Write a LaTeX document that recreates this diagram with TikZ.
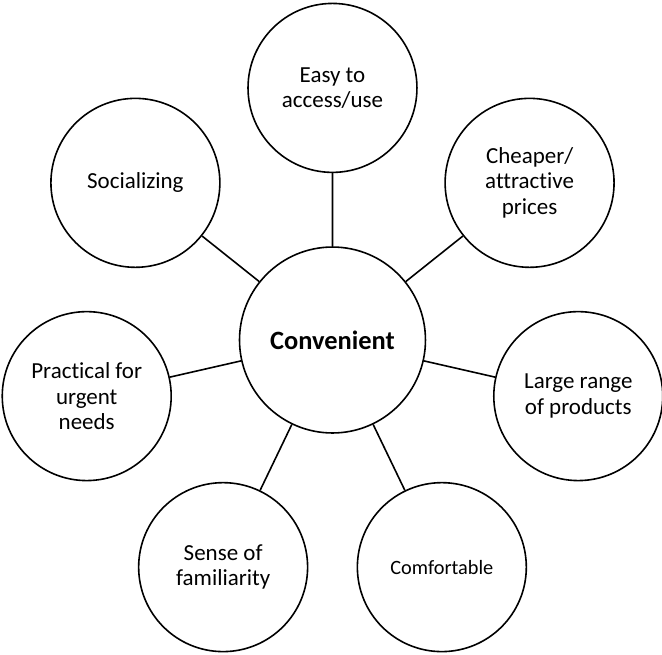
\documentclass[tikz,border=0pt]{standalone}
\usepackage{fontspec}
\setmainfont{Carlito}[Ligatures=NoCommon]

\begin{document}
\begin{tikzpicture}[line width=1.2pt]
  \tikzstyle{bubble}=[circle,draw=black,fill=white,inner sep=0pt,
                      minimum size=4.47cm,align=center,
                      font=\fontsize{17.3}{19.2}\selectfont]
  \useasboundingbox (-8.797,8.996) rectangle (8.718,-8.334);

  % hub
  \node[bubble, minimum size=4.92cm,
        font=\fontsize{19.9}{22}\selectfont\bfseries] (conv) at (0,0) {Convenient};

  % seven satellites, 360/7 degrees apart
  \node[bubble] (easy)   at (90:6.67)      {Easy to\\access/use};
  \node[bubble] (cheap)  at (38.57:6.67)   {Cheaper/\\attractive\\prices};
  \node[bubble] (range)  at (-12.86:6.67)  {Large range\\of products};
  \node[bubble, font=\fontsize{15.3}{18}\selectfont]
                (comf)   at (-64.29:6.67)  {Comfortable};
  \node[bubble] (famil)  at (-115.71:6.67) {Sense of\\familiarity};
  \node[bubble] (urgent) at (-167.14:6.67) {Practical for\\urgent\\needs};
  \node[bubble] (social) at (141.43:6.67)  {Socializing};

  \draw (conv) -- (easy)
        (conv) -- (cheap)
        (conv) -- (range)
        (conv) -- (comf)
        (conv) -- (famil)
        (conv) -- (urgent)
        (conv) -- (social);
\end{tikzpicture}
\end{document}
